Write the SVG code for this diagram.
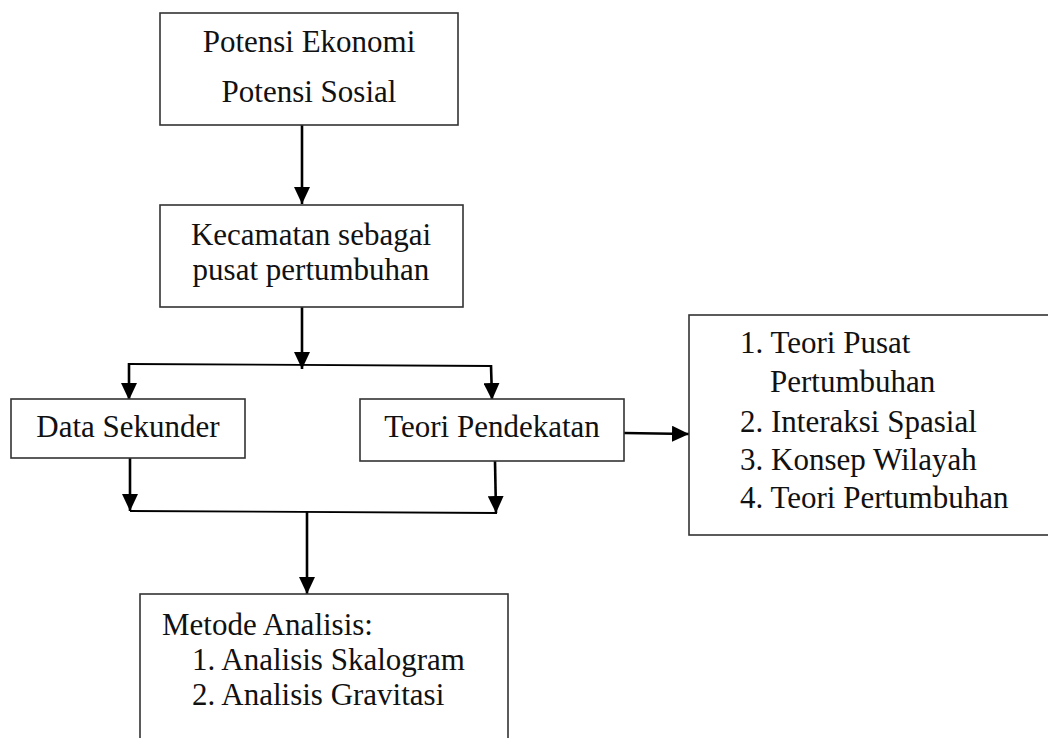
<svg xmlns="http://www.w3.org/2000/svg" width="1048" height="738" viewBox="0 0 1048 738">
<style>
.box{fill:#fff;stroke:#333;stroke-width:1.6}
.t{font-family:'Liberation Serif',Tinos,'Times New Roman','DejaVu Serif',serif;font-size:31px;fill:#111}
.c{text-anchor:middle}
.ln{fill:none;stroke:#000;stroke-width:2.6}
</style>
<defs>
<marker id="ah" viewBox="0 0 17 16" refX="17" refY="8" markerWidth="17" markerHeight="16" markerUnits="userSpaceOnUse" orient="auto">
<path d="M0,0 L17,8 L0,16 z" fill="#000"/>
</marker>
</defs>
<rect width="1048" height="738" fill="#fff"/>
<g id="connectors">
<path class="ln" d="M302,125 L302,204" marker-end="url(#ah)"/>
<path class="ln" d="M302,307 L302,369" marker-end="url(#ah)"/>
<path class="ln" style="stroke-width:1.8" d="M129,364 L491,366"/>
<path class="ln" d="M129,363 L129,400" marker-end="url(#ah)"/>
<path class="ln" d="M491,365 L492,400" marker-end="url(#ah)"/>
<path class="ln" d="M624,433 L689,434" marker-end="url(#ah)"/>
<path class="ln" d="M130,458 L130,511" marker-end="url(#ah)"/>
<path class="ln" d="M495,461 L496,513" marker-end="url(#ah)"/>
<path class="ln" style="stroke-width:1.8" d="M130,511 L497,513"/>
<path class="ln" d="M307,511 L307,594" marker-end="url(#ah)"/>
</g>
<g id="potensi">
<rect class="box" x="160" y="13" width="298" height="112"/>
<text class="t c" font-family="Liberation Serif, serif" x="309" y="52">Potensi Ekonomi</text>
<text class="t c" x="309" y="102">Potensi Sosial</text>
</g>
<g id="kecamatan">
<rect class="box" x="160" y="205" width="303" height="102"/>
<text class="t c" x="311" y="245">Kecamatan sebagai</text>
<text class="t c" x="311" y="280">pusat pertumbuhan</text>
</g>
<g id="data-sekunder">
<rect class="box" x="11" y="399" width="234" height="59"/>
<text class="t c" x="128" y="437">Data Sekunder</text>
</g>
<g id="teori-pendekatan">
<rect class="box" x="360" y="399" width="264" height="62"/>
<text class="t c" x="492" y="437">Teori Pendekatan</text>
</g>
<g id="teori-list">
<rect class="box" x="689" y="315" width="370" height="220"/>
<text class="t" x="740" y="353">1. Teori Pusat</text>
<text class="t" x="770" y="392">Pertumbuhan</text>
<text class="t" x="740" y="432">2. Interaksi Spasial</text>
<text class="t" x="740" y="470">3. Konsep Wilayah</text>
<text class="t" x="740" y="508">4. Teori Pertumbuhan</text>
</g>
<g id="metode">
<rect class="box" x="140" y="594" width="368" height="160"/>
<text class="t" x="162" y="635">Metode Analisis:</text>
<text class="t" x="192" y="670">1. Analisis Skalogram</text>
<text class="t" x="192" y="705">2. Analisis Gravitasi</text>
</g>
</svg>
